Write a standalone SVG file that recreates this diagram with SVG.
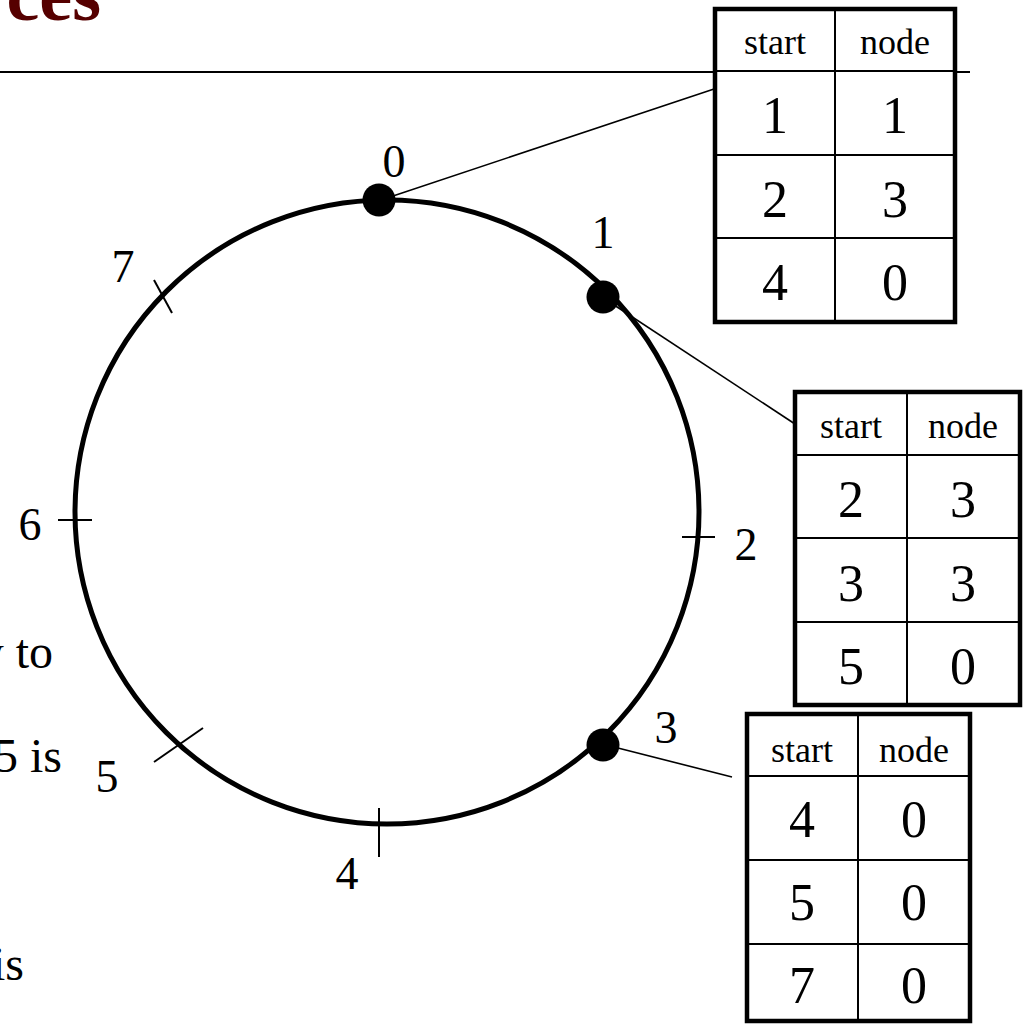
<svg xmlns="http://www.w3.org/2000/svg" width="1025" height="1025" viewBox="0 0 1025 1025">
<style>
text{font-family:"Liberation Serif","Times New Roman",serif;fill:#000}
.lbl{font-size:46px;text-anchor:middle}
.hd{font-size:36px;text-anchor:middle}
.num{font-size:52px;text-anchor:middle}
.body{font-size:48px;text-anchor:end}
.outer{fill:#fff;stroke:#000;stroke-width:4.5}
.inner{stroke:#000;stroke-width:2;fill:none}
.tick{stroke:#000;stroke-width:2;fill:none}
.conn{stroke:#000;stroke-width:1.6;fill:none}
.dot{fill:#000}
</style>
<rect x="0" y="0" width="1025" height="1025" fill="#fff"/>
<text x="101" y="20" style="font-family:'Liberation Serif','Times New Roman',serif;font-size:74px;font-weight:bold;fill:#560000;text-anchor:end">ces</text>
<line x1="0" y1="72" x2="970" y2="72" stroke="#000" stroke-width="2"/>
<g id="ring">
<circle cx="387" cy="512" r="312" fill="none" stroke="#000" stroke-width="5"/>
<line class="tick" x1="154" y1="280" x2="172" y2="313"/>
<line class="tick" x1="58" y1="520" x2="92" y2="520"/>
<line class="tick" x1="154" y1="762" x2="203" y2="728"/>
<line class="tick" x1="379" y1="808" x2="379" y2="857"/>
<line class="tick" x1="682" y1="537" x2="715" y2="537"/>
<text class="lbl" x="394" y="177">0</text>
<text class="lbl" x="603" y="248">1</text>
<text class="lbl" x="746" y="560">2</text>
<text class="lbl" x="666" y="743">3</text>
<text class="lbl" x="347" y="889">4</text>
<text class="lbl" x="107" y="792">5</text>
<text class="lbl" x="30" y="540">6</text>
<text class="lbl" x="123" y="282">7</text>
</g>
<g id="connectors">
<line class="conn" x1="390" y1="197" x2="714" y2="89"/>
<line class="conn" x1="608" y1="301" x2="795" y2="424"/>
<line class="conn" x1="610" y1="746" x2="732" y2="777"/>
</g>
<g id="node-0"><circle class="dot" cx="379" cy="200" r="16.5"/></g>
<g id="node-1"><circle class="dot" cx="603" cy="297" r="16.5"/></g>
<g id="node-3"><circle class="dot" cx="603" cy="745" r="16.5"/></g>
<g id="table-0">
<rect class="outer" x="715" y="9" width="240" height="313"/>
<line class="inner" x1="835" y1="9" x2="835" y2="322"/>
<line class="inner" x1="715" y1="71" x2="955" y2="71"/>
<line class="inner" x1="715" y1="155" x2="955" y2="155"/>
<line class="inner" x1="715" y1="238" x2="955" y2="238"/>
<text class="hd" x="775" y="54">start</text>
<text class="hd" x="895" y="54">node</text>
<text class="num" x="775" y="133">1</text><text class="num" x="895" y="133">1</text>
<text class="num" x="775" y="217">2</text><text class="num" x="895" y="217">3</text>
<text class="num" x="775" y="300">4</text><text class="num" x="895" y="300">0</text>
</g>
<g id="table-1">
<rect class="outer" x="795" y="392" width="225" height="313"/>
<line class="inner" x1="907" y1="392" x2="907" y2="705"/>
<line class="inner" x1="795" y1="455" x2="1020" y2="455"/>
<line class="inner" x1="795" y1="538" x2="1020" y2="538"/>
<line class="inner" x1="795" y1="622" x2="1020" y2="622"/>
<text class="hd" x="851" y="438">start</text>
<text class="hd" x="963" y="438">node</text>
<text class="num" x="851" y="517">2</text><text class="num" x="963" y="517">3</text>
<text class="num" x="851" y="601">3</text><text class="num" x="963" y="601">3</text>
<text class="num" x="851" y="684">5</text><text class="num" x="963" y="684">0</text>
</g>
<g id="table-3">
<rect class="outer" x="747" y="714" width="223" height="307"/>
<line class="inner" x1="858" y1="714" x2="858" y2="1021"/>
<line class="inner" x1="747" y1="776" x2="970" y2="776"/>
<line class="inner" x1="747" y1="860" x2="970" y2="860"/>
<line class="inner" x1="747" y1="944" x2="970" y2="944"/>
<text class="hd" x="802" y="762">start</text>
<text class="hd" x="914" y="762">node</text>
<text class="num" x="802" y="837">4</text><text class="num" x="914" y="837">0</text>
<text class="num" x="802" y="920">5</text><text class="num" x="914" y="920">0</text>
<text class="num" x="802" y="1003">7</text><text class="num" x="914" y="1003">0</text>
</g>
<g id="side-text">
<text class="body" x="53" y="668">y to</text>
<text class="body" x="62" y="772">5 is</text>
<text class="body" x="24" y="980">is</text>
</g>
</svg>
